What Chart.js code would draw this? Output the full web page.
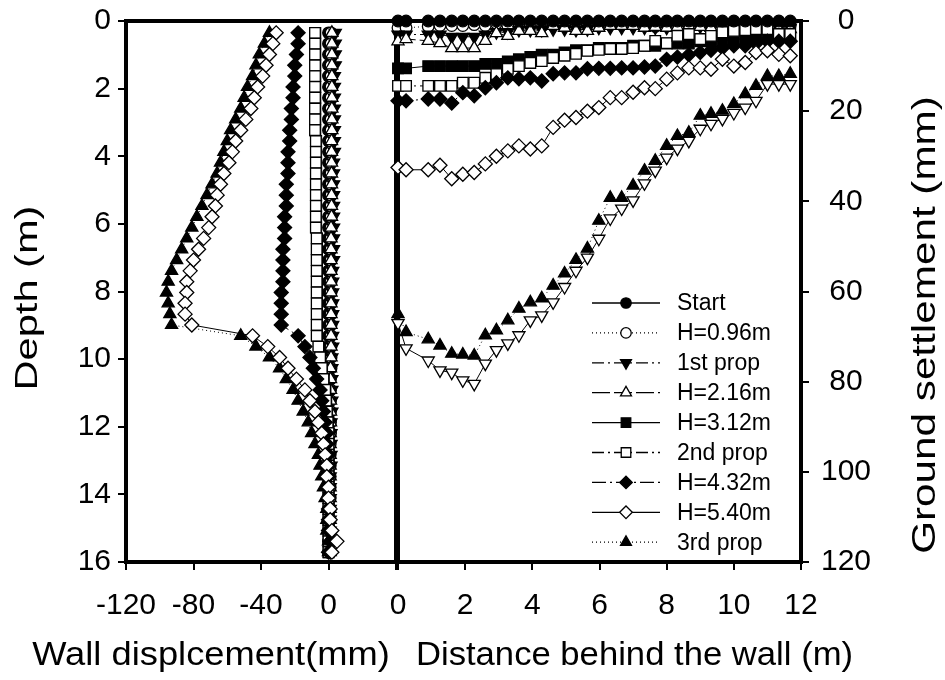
<!DOCTYPE html>
<html>
<head>
<meta charset="utf-8">
<script src="https://cdn.jsdelivr.net/npm/chart.js@4.4.1/dist/chart.umd.min.js"></script>
<style>
  html, body { margin: 0; padding: 0; background: #fff; }
  #wrap { position: relative; width: 945px; height: 680px; overflow: hidden; background: #fff; }
  #wall { position: absolute; left: 0; top: 0; }
  #ground { position: absolute; left: 370px; top: 0; }
</style>
</head>
<body>
<div id="wrap">
  <canvas id="wall" width="400" height="680"></canvas>
  <canvas id="ground" width="575" height="680"></canvas>
</div>
<script>
// ---- stage names (legend order) ----
const stageNames = ['Start', 'H=0.96m', '1st prop', 'H=2.16m', 'H=3.12m', '2nd prop', 'H=4.32m', 'H=5.40m', '3rd prop'];

// ---- wall displacement profiles: depth (m) vs displacement (mm) ----
const depthM = [0.35, 0.67, 0.99, 1.31, 1.63, 1.95, 2.27, 2.59, 2.91, 3.23,
  3.55, 3.87, 4.19, 4.51, 4.83, 5.15, 5.47, 5.79, 6.11, 6.43,
  6.75, 7.07, 7.39, 7.71, 8.03, 8.35, 8.67, 8.99, 9.31, 9.63,
  9.95, 10.27, 10.59, 10.91, 11.23, 11.55, 11.87, 12.19, 12.51, 12.83,
  13.15, 13.47, 13.79, 14.11, 14.43, 14.75, 15.07, 15.39, 15.71];

const wallStart = [0, 0, 0, 0, 0, 0, 0, 0, 0, 0, 0, 0, 0, 0, 0, 0, 0, 0, 0, 0,
  0, 0, 0, 0, 0, 0, 0, 0, 0, 0, 0, 0, 0, 0, 0, 0, 0, 0, 0, 0, 0, 0, 0, 0, 0, 0, 0, 0, 0];
const wallH096 = [1.5, 1.5, 1.5, 1.5, 1.5, 1.5, 1.5, 1.5, 1.5, 1.5, 1.5, 1.5, 1.5, 1.5, 1.5, 1.5, 1.5, 1.5, 1.5, 1.5,
  1.5, 1.5, 1.5, 1.5, 1.5, 1.5, 1.5, 1.5, 1.5, 1.5, 1.5, 1.5, 1.2, 1.2, 1.2, 1.2, 1.2, 1.2, 1, 1,
  1, 1, 1, 1, 1, 1, 1, 1, 0.5];
const wallProp1 = [4, 4, 4, 4, 3.5, 3.5, 3.5, 3.5, 3.5, 3.5, 3.5, 3.5, 3, 3, 3, 3, 3, 3, 3, 3,
  3, 3, 2.5, 2.5, 2.5, 2.5, 2.5, 2.5, 2.5, 2.5, 2, 2, 2, 2, 2, 2, 1.5, 1.5, 1.5, 1.5,
  1.5, 1, 1, 1, 1, 1, 1, 1, 1];
const wallH216 = [2, 2, 2, 2, 2, 2, 2, 2, 2, 2, 1.8, 1.8, 1.8, 1.8, 1.8, 1.8, 1.8, 1.8, 1.5, 1.5,
  1.5, 1.5, 1.5, 1.5, 1.5, 1.5, 1.5, 1.5, 1.5, 1.5, 1.5, 1.2, 1.2, 1.2, 1.2, 1.2, 1.2, 1, 1, 1,
  1, 1, 1, 1, 1, 1, 1, 1, 1];
const wallH312 = [-7.8, -7.8, -7.8, -7.8, -7.8, -7.8, -7.8, -7.8, -7.8, -7.8, -7.3, -7.3, -7.3, -7.3, -7.3, -7.3, -7.3, -7.3, -7.3, -6.8,
  -6.8, -6.8, -6.8, -6.8, -6.8, -6.8, -6.8, -6.8, -6.8, -5.8, -4.8, -3.8, -2.8, -1.8, -1.3, -0.8, -0.3, 0, 0, 0,
  0, 0, 0, 0, 0, 0, 0, 0, 0];
const wall2nd = [-8, -8, -8, -8, -8, -8, -8, -8, -8, -8, -7.5, -7.5, -7.5, -7.5, -7.5, -7.5, -7.5, -7.5, -7.5, -7,
  -7, -7, -7, -7, -7, -7, -7, -7, -7, -6, -5, -4, -3, -2, -1.5, -1, -0.5, 0, 0, 0,
  0, 0, 0, 0, 0, 0, 0, 0, 0];
const wallH432 = [-18, -18, -19, -20, -20, -21, -21, -22, -22, -23, -23, -24, -24, -24, -25, -25, -25, -26, -26, -26,
  -27, -27, -27, -27, -28, -28, -28, -28, -18, -14, -11, -9, -7, -5, -4, -3, -2, -1, -1, 0,
  0, 0, 0, 0, 0, 0, 0, 1, 0];
const wallH540 = [-31, -33, -35, -37, -39, -42, -44, -46, -49, -52, -55, -57, -59, -62, -64, -66, -67, -69, -71, -74,
  -77, -80, -82, -84, -84, -85, -85, -81, -45, -36, -29, -24, -19, -14, -11, -8, -6, -4, -3, -2,
  -1, -1, 0, 0, 1, 1, 2, 5, 2];
const wall3rd = [-35, -38, -41, -43, -45, -48, -50, -52, -55, -58, -60, -62, -64, -66, -69, -72, -75, -78, -81, -84,
  -87, -90, -93, -95, -96, -95, -94, -93, -52, -43, -35, -29, -25, -21, -18, -15, -12, -10, -8, -6,
  -5, -4, -3, -2, -1, -1, -1, 0, 0];

// ---- ground settlement troughs: distance behind wall (m) vs settlement (mm) ----
const distM = [0, 0.24, 0.9, 1.25, 1.6, 1.93, 2.27, 2.6, 2.93, 3.27,
  3.6, 3.94, 4.28, 4.62, 4.96, 5.3, 5.64, 5.98, 6.32, 6.66,
  7.0, 7.34, 7.66, 8.0, 8.32, 8.66, 9.0, 9.32, 9.66, 10.0,
  10.34, 10.66, 11.0, 11.34, 11.68];

const setStart = [0, 0, 0, 0, 0, 0, 0, 0, 0, 0, 0, 0, 0, 0, 0, 0, 0, 0, 0, 0,
  0, 0, 0, 0, 0, 0, 0, 0, 0, 0, 0, 0, 0, 0, 0];
const setH096 = [1.5, 1.5, 1.2, 1.0, 1.0, 1.0, 0.8, 1.0, 0.5, 1.0, 0.5, 0.8, 0.8, 1.0, 1.0, 0.5, 0.8, 0.5, 0.8, 0.8,
  0.5, 0.5, 1.2, 0.5, 0.3, 0.8, 0.5, 0.8, 1.0, 0.5, 1.2, 0.5, 0.5, 0.5, 1.0];
const setProp1 = [3, 3, 3, 3, 3.5, 3.5, 3.5, 3, 2.5, 2.5, 2, 2, 2, 1.8, 1.8, 2, 1.8, 1.5, 1.5, 1.5,
  1.5, 1.5, 1.5, 1.5, 1.2, 1.2, 1.2, 1.2, 1.2, 1.2, 1.2, 1.2, 1.2, 1.5, 1.5];
const setH216 = [4.5, 4.0, 4.4, 4.9, 6.0, 6.0, 6.0, 4.4, 2.7, 3.3, 2.2, 2.2, 2.7, 1.1, 1.5, 2.2, 2.2, 1.5, 1.1, 1.1,
  1.1, 1.5, 1.3, 1.5, 1.3, 1.1, 1.3, 1.5, 1.5, 1.5, 1.8, 1.5, 1.5, 1.8, 1.8];
const setH312 = [10.5, 10.5, 10, 10, 10, 10, 10, 9.5, 9.5, 9, 8.5, 8, 7.5, 7.5, 7, 6.5, 6.5, 6, 6, 6,
  5.5, 5.5, 5.5, 5, 5, 5, 4.5, 4.5, 4.5, 4, 4, 4, 3.5, 3.5, 3.5];
const set2nd = [14.4, 14.4, 14.4, 14.4, 14.4, 13.7, 13.7, 12.6, 11.8, 10.6, 10, 9.3, 8.9, 8.2, 7.7, 7.3, 6.6, 6.4, 6.2, 6.2,
  6, 5.5, 4.4, 4.9, 3.3, 2.9, 4, 3.3, 2.5, 2.2, 2.0, 1.8, 1.8, 2.9, 2.9];
const setH432 = [17.7, 17.7, 17.3, 17.3, 18.2, 15.9, 16.6, 14.8, 13.7, 12.6, 12.8, 12.6, 13.3, 11.7, 11.5, 11.5, 10.6, 10.5, 10.5, 10.4,
  10.4, 10.2, 10.0, 8.5, 8.0, 7.5, 7.0, 6.5, 6.0, 5.5, 5.5, 5.0, 4.5, 4.5, 4.5];
const setH540 = [32.5, 33, 33, 32, 35, 34, 33.6, 31.7, 30, 28.8, 27.7, 28.4, 27.7, 23.6, 22, 21.4, 20, 19.2, 17, 17,
  15.8, 14.8, 15, 12.9, 11.5, 10.4, 10.4, 10.7, 8.5, 10, 9.2, 7, 6.6, 7.4, 7.7];
const set3rd = [65, 69, 70.6, 72, 73.8, 74, 74.2, 69.7, 68.6, 66.4, 63.8, 62.4, 61.5, 58.7, 56, 53, 50.5, 44.3, 39.2, 39.2,
  36.5, 33.2, 31, 27.7, 25.5, 24.8, 21, 20.6, 19.9, 18.4, 16.2, 14.4, 12.2, 12.2, 11.7];
const setLast = [67, 72.6, 75.3, 77.5, 78, 79.7, 80.5, 76, 73, 71.5, 69.7, 66.4, 65.3, 62.4, 59, 55.4, 52.5, 48.3, 43.8, 41.6,
  39.8, 36, 33.2, 30.3, 28.3, 26.6, 23.9, 22.8, 21.7, 20.4, 19.2, 17.7, 14, 14, 14];

// ---- tick labels ----
const wallTickValues = [-120, -80, -40, 0, 40];
const wallTickLabels = ['-120', '-80', '-40', '0', ''];
const depthTickValues = [0, 2, 4, 6, 8, 10, 12, 14, 16];
const depthTickLabels = ['0', '2', '4', '6', '8', '10', '12', '14', '16'];
const distTickValues = [0, 2, 4, 6, 8, 10, 12];
const distTickLabels = ['0', '2', '4', '6', '8', '10', '12'];
const settleTickValues = [0, 20, 40, 60, 80, 100, 120];
const settleTickLabels = ['0', '20', '40', '60', '80', '100', '120'];

// ---- marker / line style per stage ----
const stageStyles = [
  { pointStyle: 'circle',  rotation: 0,   filled: true,  radius: 5.8, dash: [] },
  { pointStyle: 'circle',  rotation: 0,   filled: false, radius: 5.8, dash: [1, 3] },
  { pointStyle: 'triangle', rotation: 180, filled: true,  radius: 7,   dash: [12, 4, 2, 4] },
  { pointStyle: 'triangle', rotation: 0,   filled: false, radius: 7,   dash: [18, 4] },
  { pointStyle: 'rect',    rotation: 0,   filled: true,  radius: 7.5, dash: [] },
  { pointStyle: 'rect',    rotation: 0,   filled: false, radius: 7.5, dash: [12, 4, 2, 4] },
  { pointStyle: 'rectRot', rotation: 0,   filled: true,  radius: 7,   dash: [14, 4, 2, 4] },
  { pointStyle: 'rectRot', rotation: 0,   filled: false, radius: 7,   dash: [] },
  { pointStyle: 'triangle', rotation: 0,   filled: true,  radius: 7,   dash: [1, 3] }
];
const lastStyle = { pointStyle: 'triangle', rotation: 180, filled: false, radius: 7, dash: [] };

// stacking rank of each series (higher = drawn above)
const wallRank = [0, 1, 2, 3, 4, 5, 6, 8, 7];
const groundRank = [9, 0, 1, 2, 3, 4, 5, 7, 6];
const groundLastRank = 8;

const FONT_FAMILY = '"Liberation Sans", Arial, Helvetica, sans-serif';
Chart.defaults.font.family = FONT_FAMILY;
Chart.defaults.color = '#000';

function makeDataset(label, xs, ys, st, rank, inLegend) {
  return {
    label: label,
    data: xs.map((x, i) => ({ x: x, y: ys[i] })),
    showLine: true,
    borderColor: '#000',
    borderWidth: 1,
    borderDash: st.dash,
    pointStyle: st.pointStyle,
    pointRotation: st.rotation,
    pointRadius: st.radius,
    pointHoverRadius: st.radius,
    pointBackgroundColor: st.filled ? '#000' : '#fff',
    pointBorderColor: '#000',
    pointBorderWidth: 1.3,
    tension: 0,
    clip: false,
    order: 20 - rank,
    inLegend: inLegend
  };
}

function axis(values, labels, extra, tickExtra) {
  return Object.assign({
    type: 'linear',
    afterBuildTicks: (s) => { s.ticks = values.map(v => ({ value: v })); },
    grid: { display: true, drawOnChartArea: false, drawTicks: true, tickLength: 8, lineWidth: 2, color: '#000' },
    border: { display: false },
    ticks: Object.assign({
      autoSkip: false, maxRotation: 0, minRotation: 0,
      font: { size: 30 }, color: '#000',
      callback: (v, i) => labels[i]
    }, tickExtra || {})
  }, extra);
}

// frame around the plot area plus free-standing axis titles
function framePlugin(titles) {
  return {
    id: 'frameTitles',
    beforeDatasetsDraw(chart) {
      const { ctx, chartArea: a } = chart;
      ctx.save();
      ctx.lineWidth = 4;
      ctx.strokeStyle = '#000';
      ctx.strokeRect(a.left, a.top, a.right - a.left, a.bottom - a.top);
      ctx.restore();
    },
    afterDraw(chart) {
      const ctx = chart.ctx;
      titles.forEach(t => {
        ctx.save();
        ctx.font = t.size + 'px ' + FONT_FAMILY;
        ctx.fillStyle = '#000';
        ctx.textAlign = 'center';
        ctx.textBaseline = 'middle';
        ctx.translate(t.x, t.y);
        if (t.rot) ctx.rotate(t.rot);
        ctx.scale(t.stretch || 1, 1);
        ctx.fillText(t.text, 0, 0);
        ctx.restore();
      });
    }
  };
}

// legend: sample line with centred marker, then the stage name
const legendPlugin = {
  id: 'stageLegend',
  afterDraw(chart) {
    const ctx = chart.ctx;
    const x0 = 222, x1 = 290, xm = 256, xt = 307, y0 = 303, dy = 29.9;
    const items = chart.data.datasets.filter(d => d.inLegend);
    items.forEach((d, i) => {
      const y = y0 + i * dy;
      ctx.save();
      ctx.strokeStyle = '#000';
      ctx.lineWidth = 1.3;
      ctx.setLineDash(d.borderDash);
      ctx.beginPath();
      ctx.moveTo(x0, y);
      ctx.lineTo(x1, y);
      ctx.stroke();
      ctx.setLineDash([]);
      ctx.fillStyle = d.pointBackgroundColor;
      ctx.strokeStyle = '#000';
      ctx.lineWidth = 1.3;
      Chart.helpers.drawPoint(ctx, {
        pointStyle: d.pointStyle, rotation: d.pointRotation,
        radius: d.pointRadius * 0.9, borderWidth: 1.3
      }, xm, y);
      ctx.fillStyle = '#000';
      ctx.font = '23px ' + FONT_FAMILY;
      ctx.textAlign = 'left';
      ctx.textBaseline = 'middle';
      ctx.fillText(d.label, xt, y + 1);
      ctx.restore();
    });
  }
};

// fixed axis boxes so both panels line up exactly
const fixX = (s) => { s.height = 118; s.paddingLeft = 0; s.paddingRight = 0; };
const fixY = (w) => (s) => { s.width = w; s.paddingTop = 0; s.paddingBottom = 0; };

// ---- left panel: wall displacement ----
const wallSeries = [wallStart, wallH096, wallProp1, wallH216, wallH312, wall2nd, wallH432, wallH540, wall3rd];
const wallSets = wallSeries.map((vals, i) =>
  makeDataset(stageNames[i], vals, depthM, stageStyles[i], wallRank[i], true));

new Chart(document.getElementById('wall'), {
  type: 'scatter',
  data: { datasets: wallSets },
  options: {
    responsive: false, animation: false, devicePixelRatio: 1,
    layout: { autoPadding: false, padding: { left: 0, top: 21, right: 4, bottom: 0 } },
    plugins: { legend: { display: false }, tooltip: { enabled: false } },
    scales: {
      x: axis(wallTickValues, wallTickLabels, {
        position: 'bottom', min: -120, max: 40, afterFit: fixX
      }, { padding: 18 }),
      y: axis(depthTickValues, depthTickLabels, {
        position: 'left', min: 0, max: 16, reverse: true, afterFit: fixY(126)
      }, { padding: 7 })
    }
  },
  plugins: [framePlugin([
    { text: 'Depth (m)', x: 28, y: 298, rot: -Math.PI / 2, size: 32, stretch: 1.3 },
    { text: 'Wall displcement(mm)', x: 211, y: 656, size: 33, stretch: 1.1 }
  ])]
});

// ---- right panel: ground settlement ----
const groundSeries = [setStart, setH096, setProp1, setH216, setH312, set2nd, setH432, setH540, set3rd];
const groundSets = groundSeries.map((vals, i) =>
  makeDataset(stageNames[i], distM, vals, stageStyles[i], groundRank[i], true));
groundSets.push(makeDataset('', distM, setLast, lastStyle, groundLastRank, false));

new Chart(document.getElementById('ground'), {
  type: 'scatter',
  data: { datasets: groundSets },
  options: {
    responsive: false, animation: false, devicePixelRatio: 1,
    layout: { autoPadding: false, padding: { left: 28, top: 21, right: 0, bottom: 0 } },
    plugins: { legend: { display: false }, tooltip: { enabled: false } },
    scales: {
      x: axis(distTickValues, distTickLabels, {
        position: 'bottom', min: 0, max: 12, afterFit: fixX
      }, { padding: 18 }),
      y: axis(settleTickValues, settleTickLabels, {
        position: 'right', min: 0, max: 120, reverse: true, afterFit: fixY(144)
      }, { padding: 12, crossAlign: 'center' })
    }
  },
  plugins: [framePlugin([
    { text: 'Distance behind the wall (m)', x: 264.5, y: 656, size: 33, stretch: 1.05 },
    { text: 'Ground settlement (mm)', x: 556, y: 325, rot: -Math.PI / 2, size: 33, stretch: 1.28 }
  ]), legendPlugin]
});
</script>
</body>
</html>
